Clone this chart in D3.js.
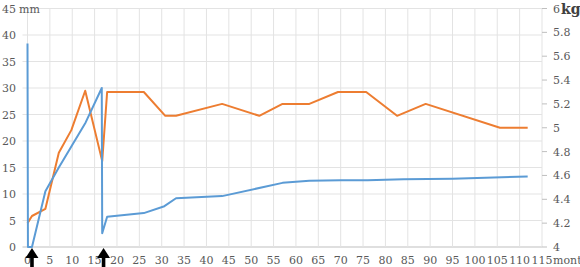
<!DOCTYPE html>
<html>
<head>
<meta charset="utf-8">
<script src="https://cdn.jsdelivr.net/npm/d3@7"></script>
<style>
  body { margin: 0; background: #fff; }
  text { font-family: "DejaVu Serif", serif; fill: #595959; }
</style>
</head>
<body>
<script>
// months, mm (left axis)
var lengthMonths = [0, 0.1, 1, 4, 7, 13, 16.6, 16.7, 17.8, 26, 30.6, 33.2, 43.5, 57, 63, 70, 76, 84, 95, 111.8];
var lengthMm = [38.4, 0, 0, 10.5, 15, 23.5, 30, 2.6, 5.7, 6.4, 7.7, 9.2, 9.6, 12.1, 12.5, 12.6, 12.6, 12.8, 12.9, 13.3];

// months, kg (right axis)
var weightMonths = [0, 1, 4, 7, 9.8, 12.9, 16.7, 17.8, 26, 30.8, 33.2, 43.5, 51.8, 57, 63, 69.4, 75.7, 82.6, 89, 105.6, 111.8];
var weightKg = [4.2, 4.26, 4.32, 4.79, 4.98, 5.31, 4.72, 5.3, 5.3, 5.1, 5.1, 5.2, 5.1, 5.2, 5.2, 5.3, 5.3, 5.1, 5.2, 5.0, 5.0];

var xTicks = d3.range(0, 116, 5);
var leftTicks = d3.range(0, 46, 5);
var rightTicks = [4, 4.2, 4.4, 4.6, 4.8, 5, 5.2, 5.4, 5.6, 5.8, 6];
var arrowMonths = [1, 17];

var svg = d3.select("body").append("svg").attr("width", 580).attr("height", 267);

var x = d3.scaleLinear().domain([0, 115]).range([27.5, 542]);
var yL = d3.scaleLinear().domain([0, 45]).range([247, 8.5]);
var yR = d3.scaleLinear().domain([4, 6]).range([247, 8.5]);

// grid
svg.selectAll("line.hgrid")
      .data(leftTicks)
      .enter().append("line")
      .attr("class", "hgrid")
      .attr("x1", x(0) - 5).attr("x2", x(115))
      .attr("y1", function (d) { return yL(d); })
      .attr("y2", function (d) { return yL(d); })
      .attr("stroke", function (d) { return d === 0 ? "#bfbfbf" : "#e3e3e3"; })
      .attr("stroke-width", 1);

svg.selectAll("line.vgrid")
      .data(xTicks)
      .enter().append("line")
      .attr("class", "vgrid")
      .attr("x1", function (d) { return x(d); })
      .attr("x2", function (d) { return x(d); })
      .attr("y1", yL(45)).attr("y2", yL(0))
      .attr("stroke", "#e3e3e3");

// right axis ticks
svg.selectAll("line.rtick")
      .data(rightTicks)
      .enter().append("line")
      .attr("class", "rtick")
      .attr("x1", x(115)).attr("x2", x(115) + 5)
      .attr("y1", function (d) { return yR(d); })
      .attr("y2", function (d) { return yR(d); })
      .attr("stroke", "#bfbfbf");

// tick labels
svg.selectAll("text.xl")
      .data(xTicks)
      .enter().append("text")
      .attr("class", "xl")
      .attr("x", function (d) { return x(d); })
      .attr("y", 264)
      .attr("text-anchor", "middle")
      .attr("font-size", 11)
      .text(function (d) { return d; });
svg.append("text").attr("x", x(115) + 11).attr("y", 264).attr("font-size", 11).text("months");

svg.selectAll("text.yl")
      .data(leftTicks)
      .enter().append("text")
      .attr("class", "yl")
      .attr("x", 16)
      .attr("y", function (d) { return yL(d) + 4; })
      .attr("text-anchor", "end")
      .attr("font-size", 11)
      .text(function (d) { return d; });
svg.append("text").attr("x", 19).attr("y", yL(45) + 4).attr("font-size", 11).text("mm");

svg.selectAll("text.yr")
      .data(rightTicks)
      .enter().append("text")
      .attr("class", "yr")
      .attr("x", 553)
      .attr("y", function (d) { return yR(d) + 4; })
      .attr("font-size", 11)
      .text(function (d) { return d; });
svg.append("text").attr("x", 561).attr("y", yR(6) + 5)
      .attr("font-size", 14).attr("font-weight", "bold").style("fill", "#404040").text("kg");

// series
var lineL = d3.line().x(function (d) { return x(d[0]); }).y(function (d) { return yL(d[1]); });
var lineR = d3.line().x(function (d) { return x(d[0]); }).y(function (d) { return yR(d[1]); });

svg.append("path")
      .attr("d", lineR(d3.zip(weightMonths, weightKg)))
      .attr("fill", "none").attr("stroke", "#ED7D31").attr("stroke-width", 2)
      .attr("stroke-linejoin", "round");

svg.append("path")
      .attr("d", lineL(d3.zip(lengthMonths, lengthMm)))
      .attr("fill", "none").attr("stroke", "#5B9BD5").attr("stroke-width", 2)
      .attr("stroke-linejoin", "round");

// arrows
var arrows = svg.selectAll("g.arrow")
      .data(arrowMonths)
      .enter().append("g")
      .attr("class", "arrow")
      .attr("transform", function (d) { return "translate(" + x(d) + ",248)"; });
arrows.append("rect").attr("x", -1.8).attr("y", 8).attr("width", 3.6).attr("height", 12).attr("fill", "#000");
arrows.append("path").attr("d", "M0,0L-6.5,10L6.5,10Z").attr("fill", "#000");
</script>
</body>
</html>
